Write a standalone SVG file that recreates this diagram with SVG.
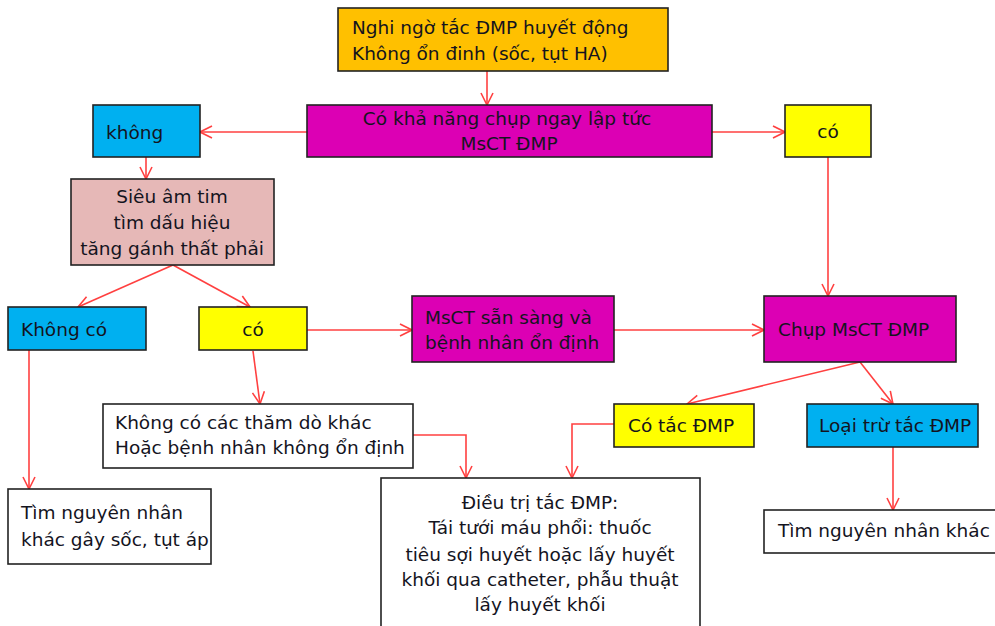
<svg xmlns="http://www.w3.org/2000/svg" width="995" height="626" viewBox="0 0 995 626">
<style>
.box{stroke:#222;stroke-width:1.6}
.t{font-family:"DejaVu Sans",Verdana,sans-serif;font-size:18.5px;fill:#14141e}
.c{text-anchor:middle}
.ln{fill:none;stroke:#FF4040;stroke-width:1.6;marker-end:url(#arr)}
</style>
<defs>
<marker id="arr" viewBox="0 0 14 14" refX="13" refY="7" markerWidth="14" markerHeight="14" orient="auto" markerUnits="userSpaceOnUse">
<path d="M1,1 L13,7 L1,13" fill="none" stroke="#FF4040" stroke-width="1.6"/>
</marker>
</defs>
<rect width="995" height="626" fill="#fff"/>
<g id="connectors">
<path class="ln" d="M487,71 L487,105"/>
<path class="ln" d="M307,132 L200,132"/>
<path class="ln" d="M712,132 L785,132"/>
<path class="ln" d="M828,157 L828,296"/>
<path class="ln" d="M146,157 L146,179"/>
<path class="ln" d="M173,265 L78,307"/>
<path class="ln" d="M173,265 L250,307"/>
<path class="ln" d="M307,330 L412,330"/>
<path class="ln" d="M614,330 L764,330"/>
<path class="ln" d="M29,350 L29,489"/>
<path class="ln" d="M253,351 L260,404"/>
<path class="ln" d="M413,435 L466,435 L466,478"/>
<path class="ln" d="M614,424 L572,424 L572,478"/>
<path class="ln" d="M860,362 L687,404"/>
<path class="ln" d="M860,362 L893,404"/>
<path class="ln" d="M893,447 L893,510"/>
</g>
<g id="n-nghingo">
<rect class="box" x="338" y="8" width="330" height="63" fill="#FFC000"/>
<text class="t" x="352" y="34">Nghi ngờ tắc ĐMP huyết động</text>
<text class="t" x="352" y="60">Không ổn đinh (sốc, tụt HA)</text>
</g>
<g id="n-khanang">
<rect class="box" x="307" y="105" width="405" height="52" fill="#DC00B4"/>
<text class="t c" x="507" y="125">Có khả năng chụp ngay lập tức</text>
<text class="t c" x="509" y="150">MsCT ĐMP</text>
</g>
<g id="n-khong">
<rect class="box" x="93" y="105" width="107" height="52" fill="#00B0F0"/>
<text class="t" x="106" y="139">không</text>
</g>
<g id="n-co1">
<rect class="box" x="785" y="105" width="86" height="52" fill="#FFFF00"/>
<text class="t c" x="828" y="138">có</text>
</g>
<g id="n-sieuam">
<rect class="box" x="71" y="179" width="203" height="86" fill="#E6B8B7"/>
<text class="t c" x="172" y="203">Siêu âm tim</text>
<text class="t c" x="172" y="229">tìm dấu hiệu</text>
<text class="t c" x="172" y="255">tăng gánh thất phải</text>
</g>
<g id="n-khongco">
<rect class="box" x="8" y="307" width="138" height="43" fill="#00B0F0"/>
<text class="t" x="21" y="336">Không có</text>
</g>
<g id="n-co2">
<rect class="box" x="199" y="307" width="108" height="43" fill="#FFFF00"/>
<text class="t c" x="253" y="336">có</text>
</g>
<g id="n-sansang">
<rect class="box" x="412" y="296" width="202" height="66" fill="#DC00B4"/>
<text class="t" x="425" y="324">MsCT sẵn sàng và</text>
<text class="t" x="425" y="349">bệnh nhân ổn định</text>
</g>
<g id="n-chup">
<rect class="box" x="764" y="296" width="192" height="66" fill="#DC00B4"/>
<text class="t" x="778" y="336">Chụp MsCT ĐMP</text>
</g>
<g id="n-khongthamdo">
<rect class="box" x="103" y="404" width="310" height="64" fill="#FFFFFF"/>
<text class="t" x="115" y="429">Không có các thăm dò khác</text>
<text class="t" x="115" y="454">Hoặc bệnh nhân không ổn định</text>
</g>
<g id="n-cotac">
<rect class="box" x="614" y="404" width="140" height="43" fill="#FFFF00"/>
<text class="t" x="628" y="432">Có tắc ĐMP</text>
</g>
<g id="n-loaitru">
<rect class="box" x="807" y="404" width="171" height="43" fill="#00B0F0"/>
<text class="t" x="819" y="432">Loại trừ tắc ĐMP</text>
</g>
<g id="n-timsoc">
<rect class="box" x="8" y="489" width="203" height="75" fill="#FFFFFF"/>
<text class="t" x="21" y="519">Tìm nguyên nhân</text>
<text class="t" x="21" y="546">khác gây sốc, tụt áp</text>
</g>
<g id="n-dieutri">
<rect class="box" x="381" y="478" width="319" height="170" fill="#FFFFFF"/>
<text class="t c" x="540" y="509">Điều trị tắc ĐMP:</text>
<text class="t c" x="540" y="534">Tái tưới máu phổi: thuốc</text>
<text class="t c" x="540" y="561">tiêu sợi huyết hoặc lấy huyết</text>
<text class="t c" x="540" y="586">khối qua catheter, phẫu thuật</text>
<text class="t c" x="540" y="611">lấy huyết khối</text>
</g>
<g id="n-timkhac">
<rect class="box" x="764" y="510" width="240" height="43" fill="#FFFFFF"/>
<text class="t" x="778" y="537">Tìm nguyên nhân khác</text>
</g>
</svg>
